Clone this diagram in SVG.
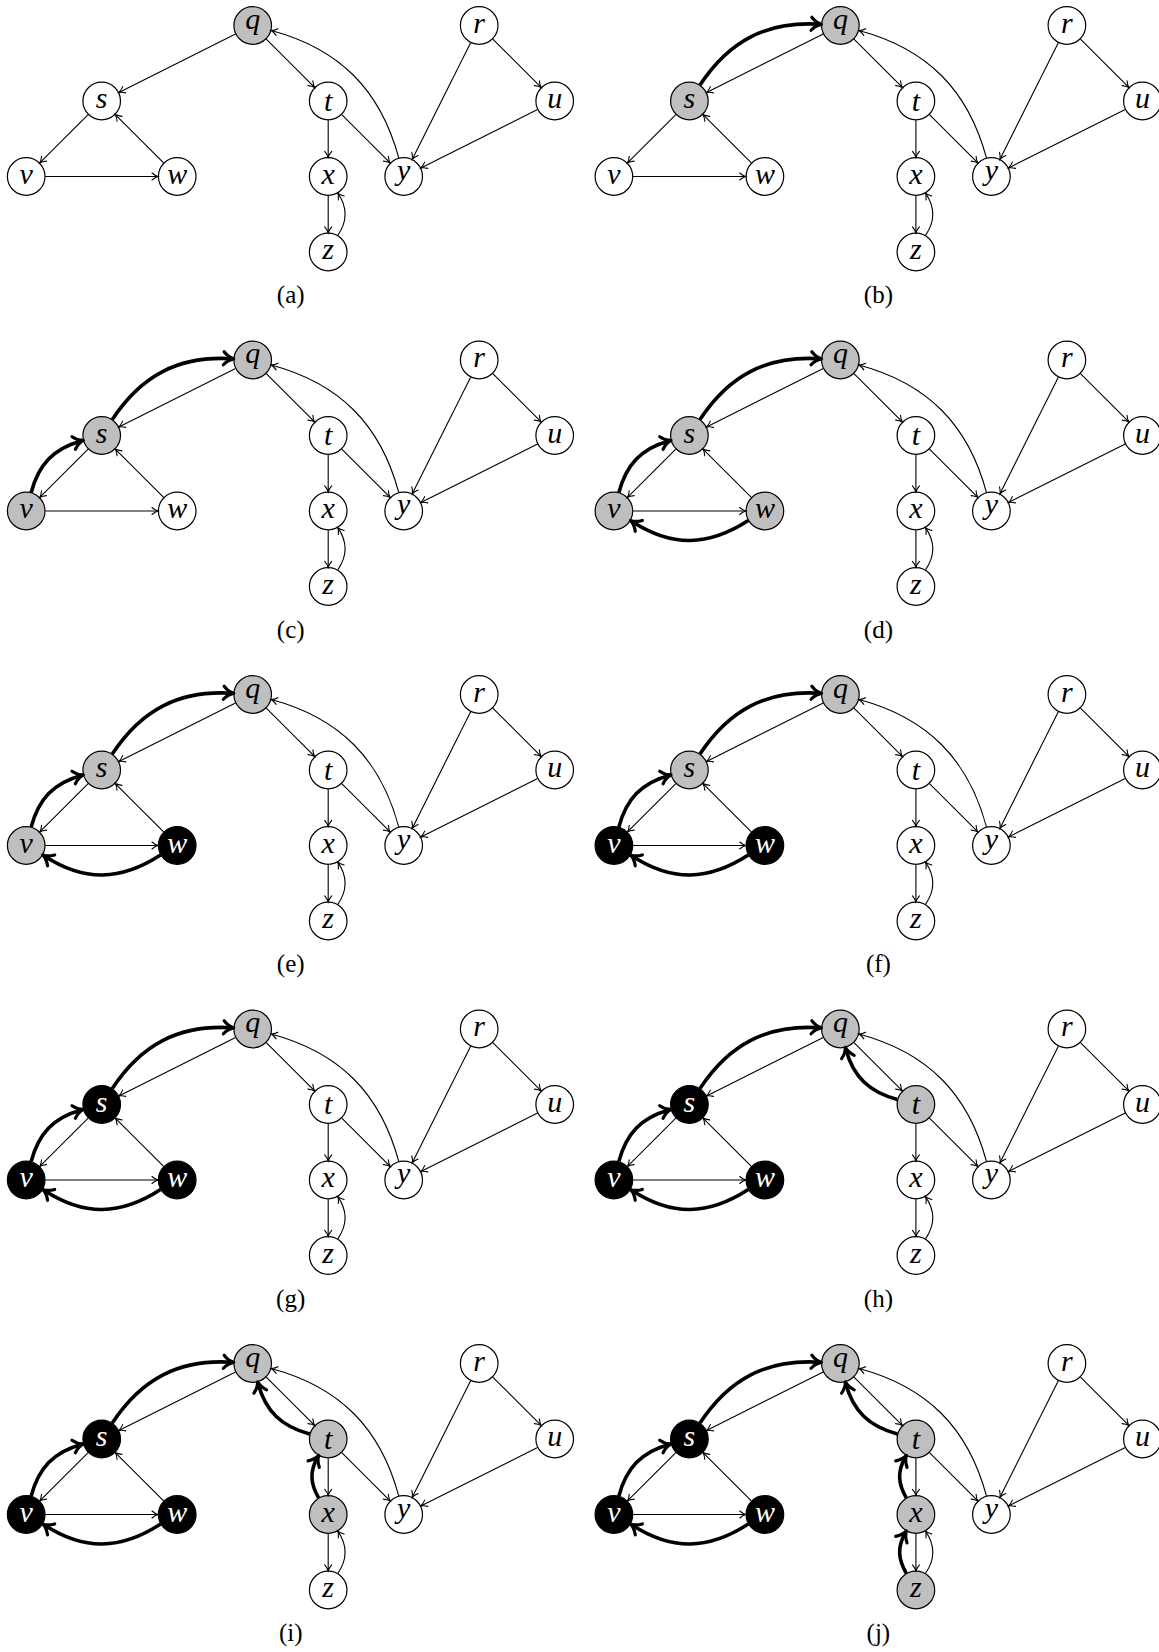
<svg xmlns="http://www.w3.org/2000/svg" xmlns:xlink="http://www.w3.org/1999/xlink" width="1159" height="1652" viewBox="0 0 1159 1652">
<style>
  .n circle { fill: #ffffff; stroke: #000000; stroke-width: 1.2; }
  .n text { font-family: "Liberation Serif", "DejaVu Serif", serif; font-style: italic; font-size: 30px; text-anchor: middle; fill: #000000; }
  .g circle { fill: #bfbfbf; }
  .b circle { fill: #000000; }
  .b text { fill: #ffffff; }
  .thin path { fill: none; stroke: #000000; stroke-width: 1.1; marker-end: url(#tip); }
  .tree { fill: none; stroke: #000000; stroke-width: 3.6; stroke-linecap: butt; marker-end: url(#tipb); }
  .cap { font-family: "Liberation Serif", "DejaVu Serif", serif; font-size: 25px; text-anchor: middle; fill: #000000; }
</style>
<defs>
  <marker id="tip" markerUnits="userSpaceOnUse" orient="auto" overflow="visible" refX="0" refY="0" markerWidth="1" markerHeight="1">
    <path d="M-6,-3.5 C-4,-1.8 -1.8,-0.5 0,0 C-1.8,0.5 -4,1.8 -6,3.5" fill="none" stroke="#000000" stroke-width="1.1" stroke-linecap="round"/>
  </marker>
  <marker id="tipb" markerUnits="userSpaceOnUse" orient="auto" overflow="visible" refX="0" refY="0" markerWidth="1" markerHeight="1">
    <path d="M-8,-6.5 C-5,-3 -1.5,-0.8 2,0 C-1.5,0.8 -5,3 -8,6.5" fill="none" stroke="#000000" stroke-width="3.2" stroke-linecap="round" stroke-linejoin="round"/>
  </marker>
  <!-- graph edges shared by every panel -->
  <g id="base-edges" class="thin">
    <path d="M209.33,8.59 L92.67,66.91"/>
    <path d="M240.08,13.58 L288.42,61.92"/>
    <path d="M372.53,132.45 C354.26,64.26 313.24,23.24 245.05,4.97"/>
    <path d="M302,94.7 L302,131.8"/>
    <path d="M315.58,89.08 L363.92,137.42"/>
    <path d="M302,170.2 L302,207.3"/>
    <path d="M311.6,209.87 C321.5,195.55 321.5,181.95 311.6,167.63"/>
    <path d="M444.41,17.17 L386.09,133.83"/>
    <path d="M466.58,13.58 L514.92,61.92"/>
    <path d="M511.33,84.09 L394.67,142.41"/>
    <path d="M61.92,89.08 L13.58,137.42"/>
    <path d="M137.42,137.42 L89.08,89.08"/>
    <path d="M19.2,151 L131.8,151"/>
  </g>
  <!-- tree edges (child to parent) -->
  <path id="t-sq" d="M86.08,59.48 C115.32,15.19 152.57,-4.43 205.54,-1.26"/>
  <path id="t-vs" d="M4.97,132.45 C12.42,104.65 27.42,88.38 55.22,80.93"/>
  <path id="t-wv" d="M134.37,160.6 C94.45,186.5 58.11,187.5 18.19,161.5"/>
  <path id="t-tq" d="M283.45,70.53 C255.65,63.08 239.39,48.08 231.94,20.28"/>
  <path id="t-xt" d="M292.4,134.37 C284.13,120.05 283.23,108.01 291.5,93.69"/>
  <path id="t-zx" d="M292.4,209.87 C284.13,195.55 283.23,183.51 291.5,169.19"/>
</defs>

<!-- (a) -->
<g id="panel-a" transform="translate(26.2,25.5)">
  <g id="a-q" class="n g"><circle cx="226.5" cy="0" r="18.8"/><text x="226.5" y="3">q</text></g>
  <g id="a-r" class="n"><circle cx="453" cy="0" r="18.8"/><text x="453" y="7">r</text></g>
  <g id="a-s" class="n"><circle cx="75.5" cy="75.5" r="18.8"/><text x="75.5" y="82.5">s</text></g>
  <g id="a-t" class="n"><circle cx="302" cy="75.5" r="18.8"/><text x="302" y="85">t</text></g>
  <g id="a-u" class="n"><circle cx="528.5" cy="75.5" r="18.8"/><text x="528.5" y="82.5">u</text></g>
  <g id="a-v" class="n"><circle cx="0" cy="151" r="18.8"/><text x="0" y="158">v</text></g>
  <g id="a-w" class="n"><circle cx="151" cy="151" r="18.8"/><text x="151" y="158">w</text></g>
  <g id="a-x" class="n"><circle cx="302" cy="151" r="18.8"/><text x="302" y="158">x</text></g>
  <g id="a-y" class="n"><circle cx="377.5" cy="151" r="18.8"/><text x="377.5" y="154">y</text></g>
  <g id="a-z" class="n"><circle cx="302" cy="226.5" r="18.8"/><text x="302" y="233.5">z</text></g>
  <g id="a-edges"><use xlink:href="#base-edges"/></g>
  <text class="cap" x="264.5" y="277.5">(a)</text>
</g>

<!-- (b) -->
<g id="panel-b" transform="translate(613.9,25.5)">
  <g id="b-q" class="n g"><circle cx="226.5" cy="0" r="18.8"/><text x="226.5" y="3">q</text></g>
  <g id="b-r" class="n"><circle cx="453" cy="0" r="18.8"/><text x="453" y="7">r</text></g>
  <g id="b-s" class="n g"><circle cx="75.5" cy="75.5" r="18.8"/><text x="75.5" y="82.5">s</text></g>
  <g id="b-t" class="n"><circle cx="302" cy="75.5" r="18.8"/><text x="302" y="85">t</text></g>
  <g id="b-u" class="n"><circle cx="528.5" cy="75.5" r="18.8"/><text x="528.5" y="82.5">u</text></g>
  <g id="b-v" class="n"><circle cx="0" cy="151" r="18.8"/><text x="0" y="158">v</text></g>
  <g id="b-w" class="n"><circle cx="151" cy="151" r="18.8"/><text x="151" y="158">w</text></g>
  <g id="b-x" class="n"><circle cx="302" cy="151" r="18.8"/><text x="302" y="158">x</text></g>
  <g id="b-y" class="n"><circle cx="377.5" cy="151" r="18.8"/><text x="377.5" y="154">y</text></g>
  <g id="b-z" class="n"><circle cx="302" cy="226.5" r="18.8"/><text x="302" y="233.5">z</text></g>
  <g id="b-edges"><use xlink:href="#base-edges"/><use xlink:href="#t-sq" class="tree"/></g>
  <text class="cap" x="264.5" y="277.5">(b)</text>
</g>

<!-- (c) -->
<g id="panel-c" transform="translate(26.2,360)">
  <g id="c-q" class="n g"><circle cx="226.5" cy="0" r="18.8"/><text x="226.5" y="3">q</text></g>
  <g id="c-r" class="n"><circle cx="453" cy="0" r="18.8"/><text x="453" y="7">r</text></g>
  <g id="c-s" class="n g"><circle cx="75.5" cy="75.5" r="18.8"/><text x="75.5" y="82.5">s</text></g>
  <g id="c-t" class="n"><circle cx="302" cy="75.5" r="18.8"/><text x="302" y="85">t</text></g>
  <g id="c-u" class="n"><circle cx="528.5" cy="75.5" r="18.8"/><text x="528.5" y="82.5">u</text></g>
  <g id="c-v" class="n g"><circle cx="0" cy="151" r="18.8"/><text x="0" y="158">v</text></g>
  <g id="c-w" class="n"><circle cx="151" cy="151" r="18.8"/><text x="151" y="158">w</text></g>
  <g id="c-x" class="n"><circle cx="302" cy="151" r="18.8"/><text x="302" y="158">x</text></g>
  <g id="c-y" class="n"><circle cx="377.5" cy="151" r="18.8"/><text x="377.5" y="154">y</text></g>
  <g id="c-z" class="n"><circle cx="302" cy="226.5" r="18.8"/><text x="302" y="233.5">z</text></g>
  <g id="c-edges"><use xlink:href="#base-edges"/><use xlink:href="#t-sq" class="tree"/><use xlink:href="#t-vs" class="tree"/></g>
  <text class="cap" x="264.5" y="277.5">(c)</text>
</g>

<!-- (d) -->
<g id="panel-d" transform="translate(613.9,360)">
  <g id="d-q" class="n g"><circle cx="226.5" cy="0" r="18.8"/><text x="226.5" y="3">q</text></g>
  <g id="d-r" class="n"><circle cx="453" cy="0" r="18.8"/><text x="453" y="7">r</text></g>
  <g id="d-s" class="n g"><circle cx="75.5" cy="75.5" r="18.8"/><text x="75.5" y="82.5">s</text></g>
  <g id="d-t" class="n"><circle cx="302" cy="75.5" r="18.8"/><text x="302" y="85">t</text></g>
  <g id="d-u" class="n"><circle cx="528.5" cy="75.5" r="18.8"/><text x="528.5" y="82.5">u</text></g>
  <g id="d-v" class="n g"><circle cx="0" cy="151" r="18.8"/><text x="0" y="158">v</text></g>
  <g id="d-w" class="n g"><circle cx="151" cy="151" r="18.8"/><text x="151" y="158">w</text></g>
  <g id="d-x" class="n"><circle cx="302" cy="151" r="18.8"/><text x="302" y="158">x</text></g>
  <g id="d-y" class="n"><circle cx="377.5" cy="151" r="18.8"/><text x="377.5" y="154">y</text></g>
  <g id="d-z" class="n"><circle cx="302" cy="226.5" r="18.8"/><text x="302" y="233.5">z</text></g>
  <g id="d-edges"><use xlink:href="#base-edges"/><use xlink:href="#t-sq" class="tree"/><use xlink:href="#t-vs" class="tree"/><use xlink:href="#t-wv" class="tree"/></g>
  <text class="cap" x="264.5" y="277.5">(d)</text>
</g>

<!-- (e) -->
<g id="panel-e" transform="translate(26.2,694.5)">
  <g id="e-q" class="n g"><circle cx="226.5" cy="0" r="18.8"/><text x="226.5" y="3">q</text></g>
  <g id="e-r" class="n"><circle cx="453" cy="0" r="18.8"/><text x="453" y="7">r</text></g>
  <g id="e-s" class="n g"><circle cx="75.5" cy="75.5" r="18.8"/><text x="75.5" y="82.5">s</text></g>
  <g id="e-t" class="n"><circle cx="302" cy="75.5" r="18.8"/><text x="302" y="85">t</text></g>
  <g id="e-u" class="n"><circle cx="528.5" cy="75.5" r="18.8"/><text x="528.5" y="82.5">u</text></g>
  <g id="e-v" class="n g"><circle cx="0" cy="151" r="18.8"/><text x="0" y="158">v</text></g>
  <g id="e-w" class="n b"><circle cx="151" cy="151" r="18.8"/><text x="151" y="158">w</text></g>
  <g id="e-x" class="n"><circle cx="302" cy="151" r="18.8"/><text x="302" y="158">x</text></g>
  <g id="e-y" class="n"><circle cx="377.5" cy="151" r="18.8"/><text x="377.5" y="154">y</text></g>
  <g id="e-z" class="n"><circle cx="302" cy="226.5" r="18.8"/><text x="302" y="233.5">z</text></g>
  <g id="e-edges"><use xlink:href="#base-edges"/><use xlink:href="#t-sq" class="tree"/><use xlink:href="#t-vs" class="tree"/><use xlink:href="#t-wv" class="tree"/></g>
  <text class="cap" x="264.5" y="277.5">(e)</text>
</g>

<!-- (f) -->
<g id="panel-f" transform="translate(613.9,694.5)">
  <g id="f-q" class="n g"><circle cx="226.5" cy="0" r="18.8"/><text x="226.5" y="3">q</text></g>
  <g id="f-r" class="n"><circle cx="453" cy="0" r="18.8"/><text x="453" y="7">r</text></g>
  <g id="f-s" class="n g"><circle cx="75.5" cy="75.5" r="18.8"/><text x="75.5" y="82.5">s</text></g>
  <g id="f-t" class="n"><circle cx="302" cy="75.5" r="18.8"/><text x="302" y="85">t</text></g>
  <g id="f-u" class="n"><circle cx="528.5" cy="75.5" r="18.8"/><text x="528.5" y="82.5">u</text></g>
  <g id="f-v" class="n b"><circle cx="0" cy="151" r="18.8"/><text x="0" y="158">v</text></g>
  <g id="f-w" class="n b"><circle cx="151" cy="151" r="18.8"/><text x="151" y="158">w</text></g>
  <g id="f-x" class="n"><circle cx="302" cy="151" r="18.8"/><text x="302" y="158">x</text></g>
  <g id="f-y" class="n"><circle cx="377.5" cy="151" r="18.8"/><text x="377.5" y="154">y</text></g>
  <g id="f-z" class="n"><circle cx="302" cy="226.5" r="18.8"/><text x="302" y="233.5">z</text></g>
  <g id="f-edges"><use xlink:href="#base-edges"/><use xlink:href="#t-sq" class="tree"/><use xlink:href="#t-vs" class="tree"/><use xlink:href="#t-wv" class="tree"/></g>
  <text class="cap" x="264.5" y="277.5">(f)</text>
</g>

<!-- (g) -->
<g id="panel-g" transform="translate(26.2,1029)">
  <g id="g-q" class="n g"><circle cx="226.5" cy="0" r="18.8"/><text x="226.5" y="3">q</text></g>
  <g id="g-r" class="n"><circle cx="453" cy="0" r="18.8"/><text x="453" y="7">r</text></g>
  <g id="g-s" class="n b"><circle cx="75.5" cy="75.5" r="18.8"/><text x="75.5" y="82.5">s</text></g>
  <g id="g-t" class="n"><circle cx="302" cy="75.5" r="18.8"/><text x="302" y="85">t</text></g>
  <g id="g-u" class="n"><circle cx="528.5" cy="75.5" r="18.8"/><text x="528.5" y="82.5">u</text></g>
  <g id="g-v" class="n b"><circle cx="0" cy="151" r="18.8"/><text x="0" y="158">v</text></g>
  <g id="g-w" class="n b"><circle cx="151" cy="151" r="18.8"/><text x="151" y="158">w</text></g>
  <g id="g-x" class="n"><circle cx="302" cy="151" r="18.8"/><text x="302" y="158">x</text></g>
  <g id="g-y" class="n"><circle cx="377.5" cy="151" r="18.8"/><text x="377.5" y="154">y</text></g>
  <g id="g-z" class="n"><circle cx="302" cy="226.5" r="18.8"/><text x="302" y="233.5">z</text></g>
  <g id="g-edges"><use xlink:href="#base-edges"/><use xlink:href="#t-sq" class="tree"/><use xlink:href="#t-vs" class="tree"/><use xlink:href="#t-wv" class="tree"/></g>
  <text class="cap" x="264.5" y="277.5">(g)</text>
</g>

<!-- (h) -->
<g id="panel-h" transform="translate(613.9,1029)">
  <g id="h-q" class="n g"><circle cx="226.5" cy="0" r="18.8"/><text x="226.5" y="3">q</text></g>
  <g id="h-r" class="n"><circle cx="453" cy="0" r="18.8"/><text x="453" y="7">r</text></g>
  <g id="h-s" class="n b"><circle cx="75.5" cy="75.5" r="18.8"/><text x="75.5" y="82.5">s</text></g>
  <g id="h-t" class="n g"><circle cx="302" cy="75.5" r="18.8"/><text x="302" y="85">t</text></g>
  <g id="h-u" class="n"><circle cx="528.5" cy="75.5" r="18.8"/><text x="528.5" y="82.5">u</text></g>
  <g id="h-v" class="n b"><circle cx="0" cy="151" r="18.8"/><text x="0" y="158">v</text></g>
  <g id="h-w" class="n b"><circle cx="151" cy="151" r="18.8"/><text x="151" y="158">w</text></g>
  <g id="h-x" class="n"><circle cx="302" cy="151" r="18.8"/><text x="302" y="158">x</text></g>
  <g id="h-y" class="n"><circle cx="377.5" cy="151" r="18.8"/><text x="377.5" y="154">y</text></g>
  <g id="h-z" class="n"><circle cx="302" cy="226.5" r="18.8"/><text x="302" y="233.5">z</text></g>
  <g id="h-edges"><use xlink:href="#base-edges"/><use xlink:href="#t-sq" class="tree"/><use xlink:href="#t-vs" class="tree"/><use xlink:href="#t-wv" class="tree"/><use xlink:href="#t-tq" class="tree"/></g>
  <text class="cap" x="264.5" y="277.5">(h)</text>
</g>

<!-- (i) -->
<g id="panel-i" transform="translate(26.2,1363.5)">
  <g id="i-q" class="n g"><circle cx="226.5" cy="0" r="18.8"/><text x="226.5" y="3">q</text></g>
  <g id="i-r" class="n"><circle cx="453" cy="0" r="18.8"/><text x="453" y="7">r</text></g>
  <g id="i-s" class="n b"><circle cx="75.5" cy="75.5" r="18.8"/><text x="75.5" y="82.5">s</text></g>
  <g id="i-t" class="n g"><circle cx="302" cy="75.5" r="18.8"/><text x="302" y="85">t</text></g>
  <g id="i-u" class="n"><circle cx="528.5" cy="75.5" r="18.8"/><text x="528.5" y="82.5">u</text></g>
  <g id="i-v" class="n b"><circle cx="0" cy="151" r="18.8"/><text x="0" y="158">v</text></g>
  <g id="i-w" class="n b"><circle cx="151" cy="151" r="18.8"/><text x="151" y="158">w</text></g>
  <g id="i-x" class="n g"><circle cx="302" cy="151" r="18.8"/><text x="302" y="158">x</text></g>
  <g id="i-y" class="n"><circle cx="377.5" cy="151" r="18.8"/><text x="377.5" y="154">y</text></g>
  <g id="i-z" class="n"><circle cx="302" cy="226.5" r="18.8"/><text x="302" y="233.5">z</text></g>
  <g id="i-edges"><use xlink:href="#base-edges"/><use xlink:href="#t-sq" class="tree"/><use xlink:href="#t-vs" class="tree"/><use xlink:href="#t-wv" class="tree"/><use xlink:href="#t-tq" class="tree"/><use xlink:href="#t-xt" class="tree"/></g>
  <text class="cap" x="264.5" y="277.5">(i)</text>
</g>

<!-- (j) -->
<g id="panel-j" transform="translate(613.9,1363.5)">
  <g id="j-q" class="n g"><circle cx="226.5" cy="0" r="18.8"/><text x="226.5" y="3">q</text></g>
  <g id="j-r" class="n"><circle cx="453" cy="0" r="18.8"/><text x="453" y="7">r</text></g>
  <g id="j-s" class="n b"><circle cx="75.5" cy="75.5" r="18.8"/><text x="75.5" y="82.5">s</text></g>
  <g id="j-t" class="n g"><circle cx="302" cy="75.5" r="18.8"/><text x="302" y="85">t</text></g>
  <g id="j-u" class="n"><circle cx="528.5" cy="75.5" r="18.8"/><text x="528.5" y="82.5">u</text></g>
  <g id="j-v" class="n b"><circle cx="0" cy="151" r="18.8"/><text x="0" y="158">v</text></g>
  <g id="j-w" class="n b"><circle cx="151" cy="151" r="18.8"/><text x="151" y="158">w</text></g>
  <g id="j-x" class="n g"><circle cx="302" cy="151" r="18.8"/><text x="302" y="158">x</text></g>
  <g id="j-y" class="n"><circle cx="377.5" cy="151" r="18.8"/><text x="377.5" y="154">y</text></g>
  <g id="j-z" class="n g"><circle cx="302" cy="226.5" r="18.8"/><text x="302" y="233.5">z</text></g>
  <g id="j-edges"><use xlink:href="#base-edges"/><use xlink:href="#t-sq" class="tree"/><use xlink:href="#t-vs" class="tree"/><use xlink:href="#t-wv" class="tree"/><use xlink:href="#t-tq" class="tree"/><use xlink:href="#t-xt" class="tree"/><use xlink:href="#t-zx" class="tree"/></g>
  <text class="cap" x="264.5" y="277.5">(j)</text>
</g>
</svg>
